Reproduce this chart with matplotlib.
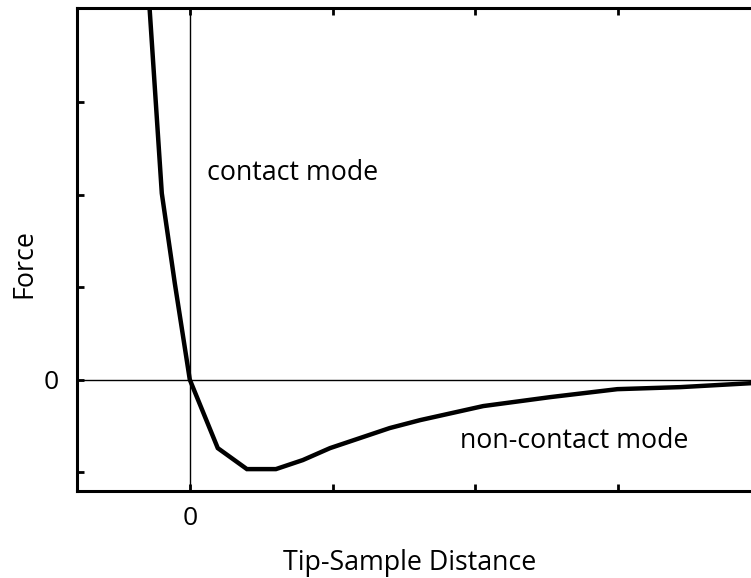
import matplotlib
matplotlib.use("Agg")
import matplotlib.pyplot as plt

# tip-sample distance (tick units) and force (tick units)
distance = [-0.30, -0.196, -0.105, 0.0, 0.196, 0.40, 0.603, 0.792, 0.982,
            1.40, 1.613, 2.055, 2.525, 2.994, 3.436, 3.934]
force = [4.45, 2.016, 1.043, 0.0, -0.741, -0.968, -0.968, -0.870, -0.741,
         -0.524, -0.438, -0.286, -0.189, -0.103, -0.081, -0.038]

x_ticks = [0, 1, 2, 3]
x_tick_labels = ['0', '', '', '']
y_ticks = [-1, 0, 1, 2, 3]
y_tick_labels = ['', '0', '', '', '']

plt.rcParams['font.family'] = ['Open Sans', 'DejaVu Sans']

fig = plt.figure(figsize=(7.51, 5.78), dpi=100)
ax = fig.add_axes([0.1025, 0.1505, 0.8975, 0.8355])

ax.axhline(0, color='black', lw=1.0)
ax.axvline(0, color='black', lw=1.0)
ax.plot(distance, force, color='black', lw=3.2, solid_joinstyle='miter')

ax.set_xlim(-0.79, 3.93)
ax.set_ylim(-1.205, 4.02)

ax.set_xticks(x_ticks)
ax.set_xticklabels(x_tick_labels)
ax.set_yticks(y_ticks)
ax.set_yticklabels(y_tick_labels)
ax.tick_params(direction='in', length=5, width=2, labelsize=19,
               top=True, right=False)
ax.tick_params(axis='x', pad=11)
ax.tick_params(axis='y', pad=13)

for side in ['left', 'top', 'bottom']:
    ax.spines[side].set_linewidth(2.2)
ax.spines['right'].set_visible(False)

ax.text(0.119, 2.157, 'contact mode', fontsize=19.3, va='baseline', ha='left')
ax.text(1.893, -0.74, 'non-contact mode', fontsize=19.3, va='baseline', ha='left')

ax.set_xlabel('Tip-Sample Distance', fontsize=19.3)
ax.set_ylabel('Force', fontsize=19.3)
ax.xaxis.set_label_coords(0.494, -0.12)
ax.yaxis.set_label_coords(-0.057, 0.47)

fig.savefig('out.png', dpi=100)
